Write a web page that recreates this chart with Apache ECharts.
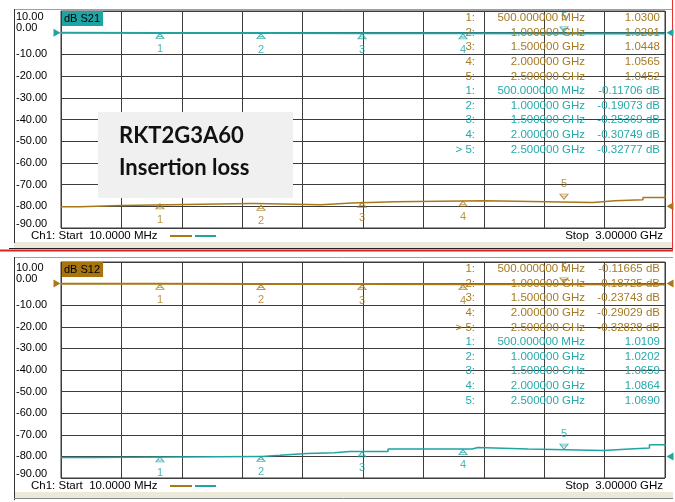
<!DOCTYPE html>
<html><head><meta charset="utf-8">
<script src="https://cdn.jsdelivr.net/npm/echarts@6/dist/echarts.min.js"></script>
<style>html,body{margin:0;padding:0;background:#fff}#c{width:675px;height:502px}</style>
</head><body><div id="c"></div>
<script>
// ---------- DATA ----------
const startMHz = 10, stopMHz = 3000;
const yMin = -90, yMax = 10, yStep = 10;
const startLabel = 'Ch1: Start  10.0000 MHz';
const stopLabel = 'Stop  3.00000 GHz';
const markerIds = ['1', '2', '3', '4', '5'];
const markerFreqs = [500, 1000, 1500, 2000, 2500];
const markerFreqLabels = ['500.000000 MHz', '1.000000 GHz', '1.500000 GHz', '2.000000 GHz', '2.500000 GHz'];
const noteLines = ['RKT2G3A60', 'Insertion loss'];

// Panel 1: dB S21 (teal, near 0 dB) + SWR trace (brown)
const p1Title = 'dB S21';
const s21Freq = [10, 500, 1000, 1500, 2000, 2500, 3000];
const s21dB = [-0.03, -0.11706, -0.19073, -0.25369, -0.30749, -0.32777, -0.36];
const s21Table = ['-0.11706 dB', '-0.19073 dB', '-0.25369 dB', '-0.30749 dB', '-0.32777 dB'];
const swr1Freq = [10, 104, 307, 946, 970, 1297, 1450, 1663, 2109, 2643, 2752, 2891, 3000];
const swr1Level = [-80.2, -79.6, -78.7, -78.7, -79.3, -78.5, -77.9, -77.4, -78.2, -77.4, -77.0, -75.9, -75.1];
const swr1MarkerLevel = [-78.7, -79.3, -77.9, -77.4, -77.4];
const swr1Table = ['1.0300', '1.0291', '1.0448', '1.0565', '1.0452'];

// Panel 2: dB S12 (brown, near 0 dB) + SWR trace (teal)
const p2Title = 'dB S12';
const s12Freq = [10, 500, 1000, 1500, 2000, 2500, 3000];
const s12dB = [-0.03, -0.11665, -0.18725, -0.23743, -0.29029, -0.32828, -0.36];
const s12Table = ['-0.11665 dB', '-0.18725 dB', '-0.23743 dB', '-0.29029 dB', '-0.32828 dB'];
const swr2Freq = [10, 163, 990, 1005, 1094, 1228, 1362, 1441, 1629, 1995, 2045, 2074, 2322, 2694, 2824, 2923, 3000];
const swr2Level = [-80.5, -80.0, -80.0, -79.5, -78.7, -78.3, -77.7, -77.7, -76.6, -76.6, -75.9, -76.6, -77.3, -76.6, -76.1, -74.6, -75.3];
const swr2MarkerLevel = [-80.0, -79.8, -77.7, -76.6, -77.3];
const swr2Table = ['1.0109', '1.0202', '1.0659', '1.0864', '1.0690'];

// ---------- STYLE / LAYOUT ----------
const TEAL = '#1fa3a3', BROWN = '#a87818';
const TEAL_T = '#26a9a9', BROWN_T = '#a57a22';
const GRIDC = '#3c3c3c';
const FONT = '"Liberation Sans", Arial, sans-serif';
const panels = [
  {top: 11, height: 217, title: p1Title, titleBg: TEAL},
  {top: 262, height: 216, title: p2Title, titleBg: '#a8740e'}
];
const GL = 61, GW = 604;

const chart = echarts.init(document.getElementById('c'), null, {renderer: 'canvas'});

const lblStyle = {fontSize: 11, fontFamily: FONT, color: '#000'};
function mainFmt(v) {
  const s = v.toFixed(2);
  if (v === yMax) return '';
  if (v === 0) return '{z|' + s + '}';
  if (v === yMin) return '{b|' + s + '}';
  return s;
}
function topFmt(v) {
  return v === yMax ? '{t|' + v.toFixed(2) + '}' : '';
}

const grids = [], xAxes = [], yAxes = [], series = [], titles = [], graphics = [];

panels.forEach((p, i) => {
  grids.push({left: GL, top: p.top, width: GW, height: p.height, show: true, borderColor: GRIDC, borderWidth: 1, backgroundColor: '#fff'});
  xAxes.push({gridIndex: i, type: 'value', min: 0, max: 10, interval: 1,
    axisLabel: {show: false}, axisTick: {show: false}, axisLine: {show: false},
    splitLine: {show: true, lineStyle: {color: GRIDC, width: 1}}});
  xAxes.push({gridIndex: i, type: 'value', min: startMHz, max: stopMHz, show: false, splitLine: {show: false}});
  // main scale with labels 0 .. -90
  yAxes.push({gridIndex: i, type: 'value', min: yMin, max: yMax, interval: yStep,
    axisLine: {show: false}, axisTick: {show: false},
    splitLine: {show: true, lineStyle: {color: GRIDC, width: 1}},
    axisLabel: Object.assign({align: 'left', margin: 45, formatter: mainFmt,
      showMinLabel: true, showMaxLabel: false,
      rich: {
        z: Object.assign({padding: [0, 0, 10, 0]}, lblStyle),
        b: Object.assign({padding: [0, 0, 8, 0]}, lblStyle)
      }}, lblStyle)});
  // same scale, only carries the top "10.00" label
  yAxes.push({gridIndex: i, type: 'value', min: yMin, max: yMax, interval: yStep, position: 'left',
    axisLine: {show: false}, axisTick: {show: false}, splitLine: {show: false},
    axisLabel: Object.assign({align: 'left', margin: 45, formatter: topFmt, showMaxLabel: true,
      rich: {t: Object.assign({padding: [12, 0, 0, 0]}, lblStyle)}}, lblStyle)});
  titles.push({text: p.title, left: GL + 1, top: p.top, padding: [2, 3, 2, 2],
    backgroundColor: p.titleBg, textStyle: {fontSize: 11, fontFamily: FONT, color: '#000', fontWeight: 'normal'}});
});

const upTri = 'path://M5,0 L10,8 L0,8 Z M1,5 L9,5';
const dnTri = 'path://M0,0 L10,0 L5,8 Z M1,3 L9,3';
function markerSeries(grid, levels, color) {
  return {
    type: 'scatter', xAxisIndex: grid * 2 + 1, yAxisIndex: grid * 2, z: 6, silent: true,
    data: markerFreqs.map((f, k) => {
      const active = k === 4;
      return {
        value: [f, levels[k]], name: markerIds[k],
        symbol: active ? dnTri : upTri,
        symbolOffset: active ? [0, -4] : [0, 3],
        label: {position: active ? 'top' : 'bottom', distance: active ? 4 : 5}
      };
    }),
    symbolSize: [8, 5],
    itemStyle: {color: 'rgba(0,0,0,0)', borderColor: color, borderWidth: 1},
    label: {show: true, formatter: '{b}', color: color, fontSize: 11, fontFamily: FONT}
  };
}
function traceSeries(grid, xs, ys, color, width, step, refArrows) {
  const s = {
    type: 'line', xAxisIndex: grid * 2 + 1, yAxisIndex: grid * 2, z: 5, silent: true,
    showSymbol: false, step: step || false, animation: false,
    lineStyle: {color: color, width: width},
    data: xs.map((x, k) => [x, ys[k]])
  };
  if (refArrows) {
    s.markPoint = {symbolSize: [7, 8], silent: true, label: {show: false},
      itemStyle: {color: color},
      data: refArrows.map(a => ({coord: [a[0], a[1]], symbol: a[2] === 'r' ? 'path://M0,0 L8,4 L0,8 Z' : 'path://M8,0 L0,4 L8,8 Z',
        symbolOffset: [a[2] === 'r' ? -4 : 5, 0]}))};
  }
  return s;
}

series.push(traceSeries(0, swr1Freq, swr1Level, BROWN, 1.5, 'end', [[stopMHz, yMin + 10, 'l']]));
series.push(traceSeries(0, s21Freq, s21dB, TEAL, 2, false, [[startMHz, 0, 'r'], [stopMHz, 0, 'l']]));
series.push(markerSeries(0, swr1MarkerLevel, BROWN));
series.push(markerSeries(0, s21Table.map(t => parseFloat(t)), TEAL));
series.push(traceSeries(1, swr2Freq, swr2Level, TEAL, 1.5, 'end', [[stopMHz, yMin + 10, 'l']]));
series.push(traceSeries(1, s12Freq, s12dB, BROWN, 2, false, [[startMHz, 0, 'r'], [stopMHz, 0, 'l']]));
series.push(markerSeries(1, swr2MarkerLevel, TEAL));
series.push(markerSeries(1, s12Table.map(t => parseFloat(t)), BROWN));

// ---------- frame / decorations ----------
function line(x1, y1, x2, y2, color, w, z) {
  graphics.push({type: 'line', z: z || 0, silent: true, shape: {x1, y1, x2, y2}, style: {stroke: color, lineWidth: w || 1}});
}
function rect(x, y, w, h, fill, z) {
  graphics.push({type: 'rect', z: z || 0, silent: true, shape: {x, y, width: w, height: h}, style: {fill}});
}
function text(x, y, str, color, align, opts) {
  graphics.push({type: 'text', z: 100, silent: true, x, y,
    style: Object.assign({text: str, fill: color, font: '11.5px ' + FONT, textAlign: align || 'left', textVerticalAlign: 'middle'}, opts || {})});
}
rect(14, 242, 659, 6, '#ece9d8', -10);
rect(14, 492, 659, 6, '#ece9d8', -10);
line(14, 9.5, 673, 9.5, '#a0a0a0', 1);
line(14.5, 9, 14.5, 243, '#333', 1);
line(9, 248.5, 673, 248.5, '#222', 1);
line(0, 250.5, 673, 250.5, '#e02020', 2);
line(672.5, 0, 672.5, 251, '#e83030', 1);
line(14, 257.5, 673, 257.5, '#a0a0a0', 1);
line(14.5, 257, 14.5, 500, '#333', 1);
line(14, 498.5, 673, 498.5, '#888', 1);

const tblX1 = 475, tblX2 = 585, tblX3 = 660, rowH = 14.6;
function table(top, firstColor, firstVals, firstActive, secondColor, secondVals, secondActive) {
  for (let k = 0; k < 10; k++) {
    const first = k < 5, m = k % 5;
    const c = first ? firstColor : secondColor;
    const vals = first ? firstVals : secondVals;
    const act = (first ? firstActive : secondActive) && m === 4;
    const y = top + 7 + k * rowH;
    text(tblX1, y, (act ? '> ' : '') + markerIds[m] + ':', c, 'right');
    text(tblX2, y, markerFreqLabels[m], c, 'right');
    text(tblX3, y, vals[m], c, 'right');
  }
}
table(panels[0].top, BROWN_T, swr1Table, false, TEAL_T, s21Table, true);
table(panels[1].top, BROWN_T, s12Table, true, TEAL_T, swr2Table, false);

panels.forEach(p => {
  const y = p.top + p.height + 8;
  text(31, y, startLabel, '#000', 'left');
  text(663, y, stopLabel, '#000', 'right');
  line(170, y, 192, y, BROWN, 2);
  line(195, y, 216, y, TEAL, 2);
});

rect(98, 112, 195, 86, '#f0f0f0', 50);
graphics.push({type: 'text', z: 101, silent: true, x: 119, y: 147,
  style: {text: noteLines[0], fill: '#111', font: 'bold 22px Lato, "Open Sans", sans-serif', textVerticalAlign: 'bottom'}});
graphics.push({type: 'text', z: 101, silent: true, x: 119, y: 179,
  style: {text: noteLines[1], fill: '#111', font: 'bold 22px Lato, "Open Sans", sans-serif', textVerticalAlign: 'bottom'}});

chart.setOption({
  animation: false,
  backgroundColor: '#fff',
  title: titles,
  grid: grids,
  xAxis: xAxes,
  yAxis: yAxes,
  series: series,
  graphic: graphics
});
</script></body></html>
